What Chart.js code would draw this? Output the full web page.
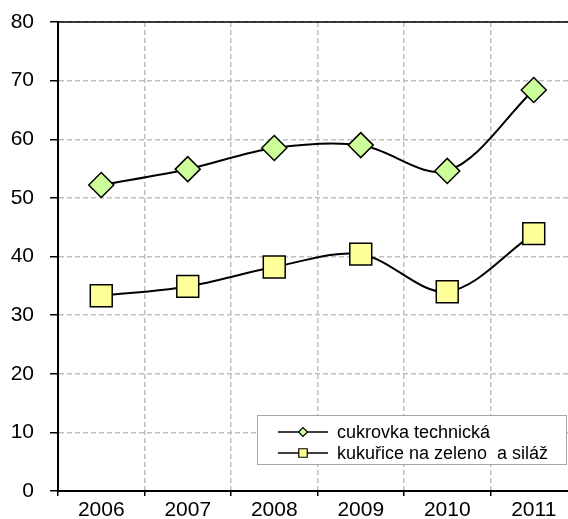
<!DOCTYPE html>
<html>
<head>
<meta charset="utf-8">
<script src="https://cdn.jsdelivr.net/npm/chart.js@4/dist/chart.umd.min.js"></script>
<style>
  html, body { margin: 0; padding: 0; background: #fff; overflow: hidden; }
  #wrap { width: 600px; height: 519px; }
</style>
</head>
<body>
<div id="wrap"><canvas id="c" width="600" height="519"></canvas></div>
<script>
const years = ['2006', '2007', '2008', '2009', '2010', '2011'];
const cukrovka = [52.2, 54.9, 58.5, 59.0, 54.6, 68.4];
const kukurice = [33.3, 34.9, 38.2, 40.4, 34.0, 43.9];
const seriesNames = ['cukrovka technická', 'kukuřice na zeleno  a siláž'];
const yTicks = { min: 0, max: 80, step: 10 };

const FONT = 'Liberation Sans, Arial, sans-serif';

const legendPlugin = {
  id: 'boxLegend',
  afterDatasetsDraw(chart) {
    const ctx = chart.ctx, ca = chart.chartArea;
    const x0 = ca.left + 199, y0 = ca.bottom - 76, w = 309, h = 49;
    ctx.save();
    ctx.fillStyle = '#ffffff';
    ctx.fillRect(x0, y0, w, h);
    ctx.strokeStyle = '#a6a6a6';
    ctx.lineWidth = 1;
    ctx.strokeRect(x0 + 0.5, y0 + 0.5, w, h);
    chart.data.datasets.forEach((ds, i) => {
      const cy = y0 + 17 + i * 21;
      ctx.strokeStyle = '#000';
      ctx.lineWidth = 1.5;
      ctx.beginPath();
      ctx.moveTo(x0 + 21, cy);
      ctx.lineTo(x0 + 71, cy);
      ctx.stroke();
      ctx.fillStyle = ds.pointBackgroundColor;
      ctx.strokeStyle = '#000';
      ctx.lineWidth = 1.2;
      Chart.helpers.drawPoint(ctx, { pointStyle: ds.pointStyle, radius: ds.pointStyle === 'rect' ? 6 : 4.5, borderWidth: 1.2 }, x0 + 46, cy);
      ctx.fillStyle = '#000';
      ctx.font = '18px ' + FONT;
      ctx.textBaseline = 'middle';
      ctx.textAlign = 'left';
      ctx.fillText(ds.label, x0 + 80, cy + 1);
    });
    ctx.restore();
  }
};

const topBorder = {
  id: 'topBorder',
  afterDraw(chart) {
    const ctx = chart.ctx, ca = chart.chartArea;
    ctx.save();
    ctx.strokeStyle = '#000';
    ctx.lineWidth = 1.5;
    ctx.beginPath();
    ctx.moveTo(ca.left, ca.top);
    ctx.lineTo(ca.right, ca.top);
    ctx.stroke();
    ctx.restore();
  }
};

new Chart(document.getElementById('c'), {
  type: 'line',
  data: {
    labels: years,
    datasets: [
      {
        label: seriesNames[0],
        data: cukrovka,
        borderColor: '#000',
        borderWidth: 2,
        tension: 0.33,
        pointStyle: 'rectRot',
        pointRadius: 12.5,
        pointBackgroundColor: '#ccff99',
        pointBorderColor: '#000',
        pointBorderWidth: 1.5
      },
      {
        label: seriesNames[1],
        data: kukurice,
        borderColor: '#000',
        borderWidth: 2,
        tension: 0.33,
        pointStyle: 'rect',
        pointRadius: 15.5,
        pointBackgroundColor: '#ffff99',
        pointBorderColor: '#000',
        pointBorderWidth: 1.5
      }
    ]
  },
  options: {
    responsive: false,
    animation: false,
    events: [],
    layout: { padding: { top: 22, right: 23, left: 0, bottom: 0 } },
    plugins: { legend: { display: false }, tooltip: { enabled: false } },
    scales: {
      x: {
        offset: true,
        grid: {
          offset: true,
          color: '#c0c0c0',
          lineWidth: 1.5,
          tickColor: '#000',
          tickLength: 5,
          tickWidth: 1.5,
          drawOnChartArea: true
        },
        border: { color: '#000', width: 2, dash: [5, 3] },
        ticks: { color: '#000', font: { family: FONT, size: 21 }, padding: 2, maxRotation: 0 },
        afterFit(s) { s.height = 28; s.paddingLeft = 0; s.paddingRight = 0; }
      },
      y: {
        min: yTicks.min,
        max: yTicks.max,
        ticks: { stepSize: yTicks.step, color: '#000', font: { family: FONT, size: 21 }, padding: 16 },
        grid: {
          color: '#c0c0c0',
          lineWidth: 1.5,
          tickColor: '#000',
          tickLength: 8,
          tickWidth: 1.5
        },
        border: { color: '#000', width: 2, dash: [5, 3] },
        afterFit(s) { s.width = 58; s.paddingTop = 0; s.paddingBottom = 0; }
      }
    }
  },
  plugins: [legendPlugin, topBorder]
});
</script>
</body>
</html>
